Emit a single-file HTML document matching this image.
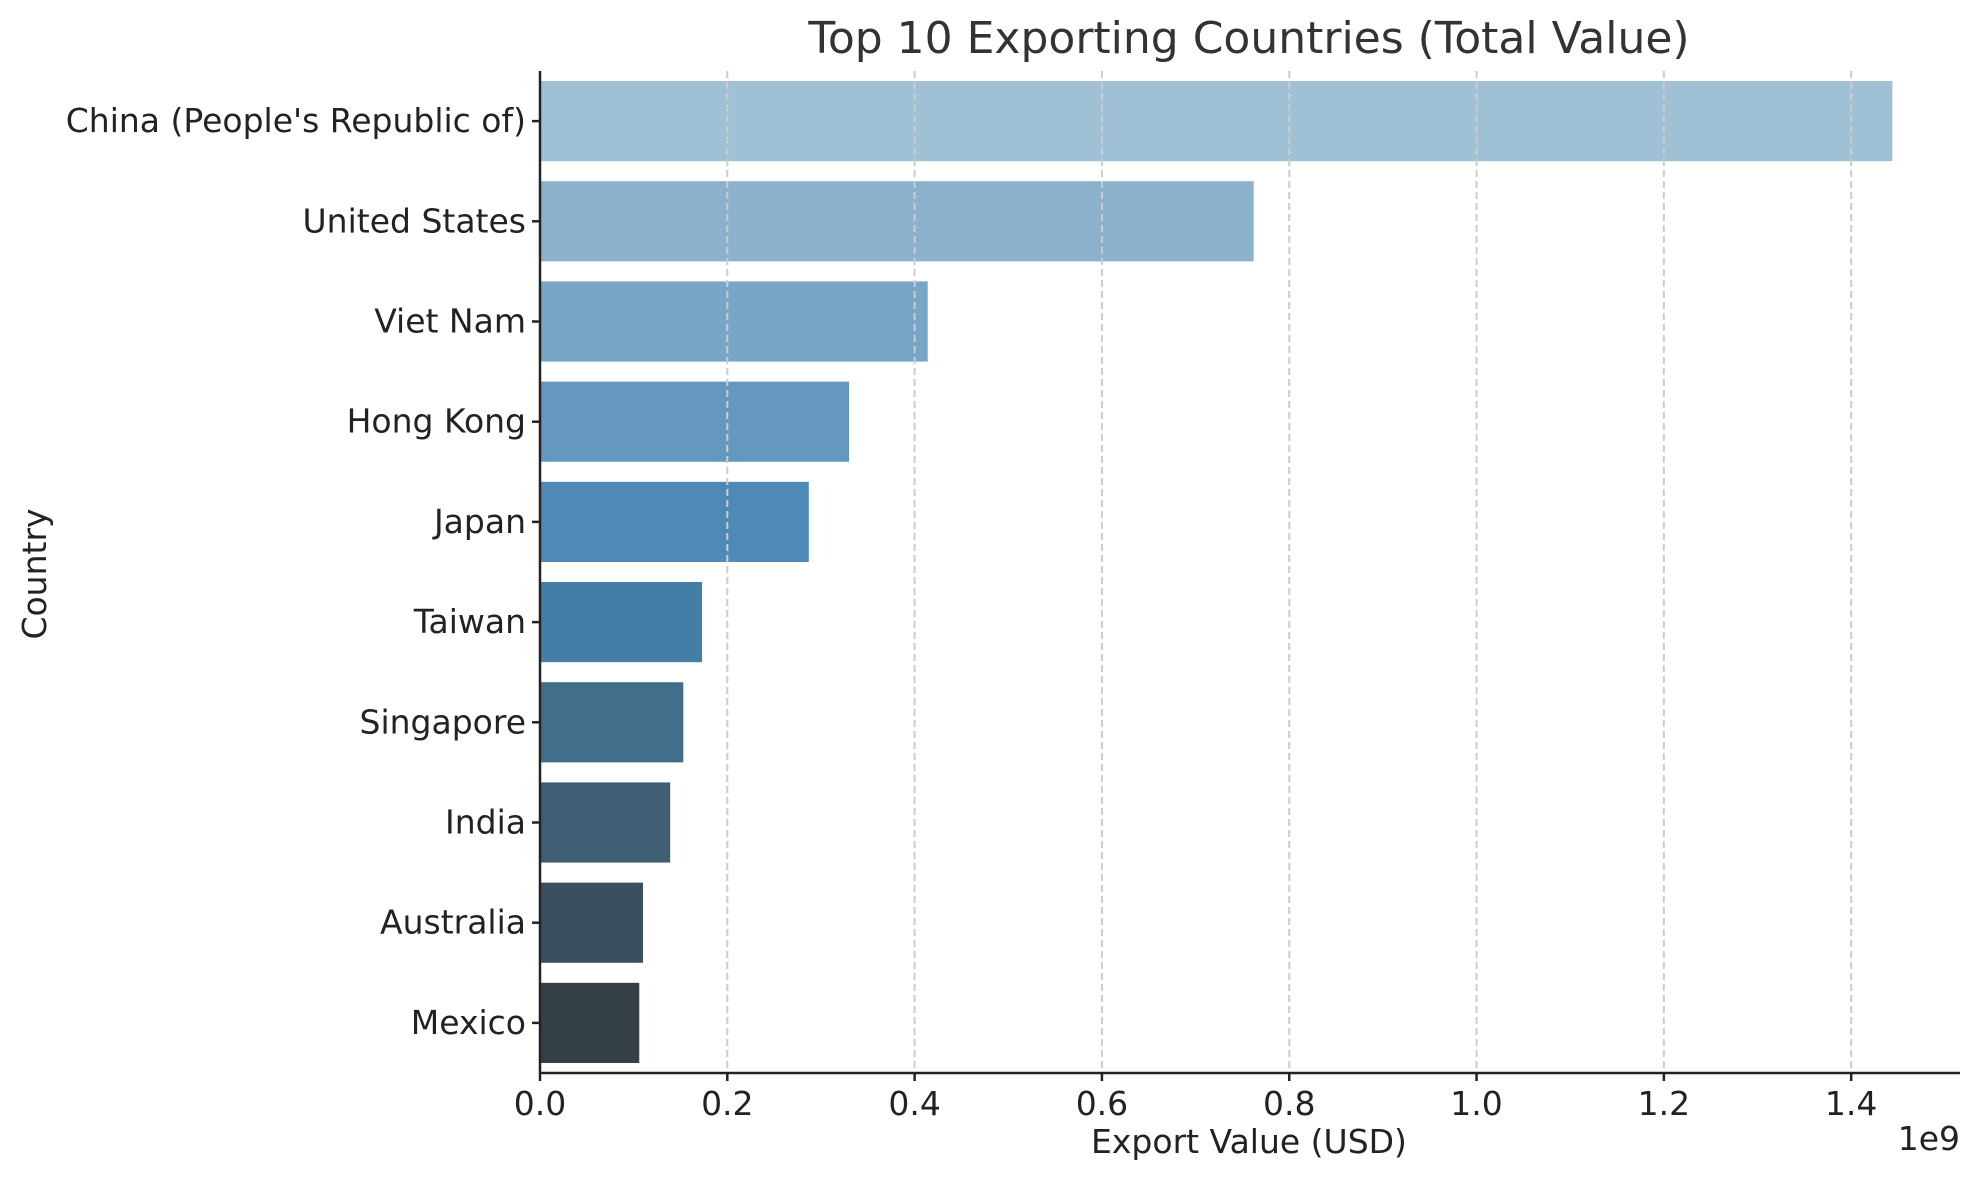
<!DOCTYPE html>
<html><head><meta charset="utf-8"><style>
body{margin:0;background:#fff;}
svg text{font-family:"DejaVu Sans","Liberation Sans",sans-serif;}
</style></head><body>
<svg id="chart" width="1979" height="1180" viewBox="0 0 1979 1180" xmlns="http://www.w3.org/2000/svg">
<rect width="1979" height="1180" fill="#fff"/>
<text x="1249" y="53" font-size="44" text-anchor="middle" fill="#333">Top 10 Exporting Countries (Total Value)</text>
<g id="bars"></g>
<g id="grid"></g>
<g id="axes"></g>
<text x="1249" y="1153" font-size="33" text-anchor="middle" fill="#222">Export Value (USD)</text>
<text x="1960" y="1150" font-size="33" text-anchor="end" fill="#222">1e9</text>
<text transform="translate(46,574) rotate(-90)" font-size="33" text-anchor="middle" fill="#222">Country</text>
</svg>
<script>
const categories = ["China (People's Republic of)","United States","Viet Nam","Hong Kong","Japan","Taiwan","Singapore","India","Australia","Mexico"];
const values = [1.444,0.762,0.414,0.330,0.287,0.173,0.153,0.139,0.110,0.106];
const tickValues = [0,0.2,0.4,0.6,0.8,1.0,1.2,1.4];
const tickLabels = ["0.0","0.2","0.4","0.6","0.8","1.0","1.2","1.4"];
const colors = ["#9fc0d5","#8bb1cc","#78a6c6","#6498c0","#4f8ab6","#447da6","#426e8b","#3f5d73","#3c4f60","#353f46"];
const NS="http://www.w3.org/2000/svg";
const plotLeft=540,plotRight=1960,plotTop=71,plotBottom=1073,xmax=1.5162;
function xs(v){return plotLeft+(v/xmax)*(plotRight-plotLeft);}
const band=(plotBottom-plotTop)/categories.length;
function ys(i){return plotTop+band*(i+0.5);}
function mk(tag,attrs,parent){const e=document.createElementNS(NS,tag);for(const k in attrs)e.setAttribute(k,attrs[k]);parent.appendChild(e);return e;}
const barsG=document.getElementById('bars'),gridG=document.getElementById('grid'),axesG=document.getElementById('axes');
categories.forEach((c,i)=>{
  const r=mk('rect',{x:xs(0),y:ys(i)-band*0.4,width:xs(values[i])-xs(0),height:band*0.8,fill:colors[i%colors.length]},barsG);
  
  
  const t=mk('line',{x1:plotLeft-8,x2:plotLeft,y1:ys(i),y2:ys(i),stroke:'#222','stroke-width':2.5},axesG);
  
  
  const l=mk('text',{x:plotLeft-14,y:ys(i)+11,'font-size':33,'text-anchor':'end',fill:'#222'},axesG);
  l.textContent=c;
  
  
});
tickValues.forEach((v,i)=>{
  if(v>0){
    const g=mk('line',{x1:xs(v),x2:xs(v),y1:plotTop,y2:plotBottom,stroke:'#ccc','stroke-width':2,'stroke-dasharray':'7,4'},gridG);
    
    
  }
  const t=mk('line',{x1:xs(v),x2:xs(v),y1:plotBottom,y2:plotBottom+8,stroke:'#222','stroke-width':2.5},axesG);
  
  
  const l=mk('text',{x:xs(v),y:plotBottom+42,'font-size':33,'text-anchor':'middle',fill:'#222'},axesG);
  l.textContent=tickLabels[i];
  
  
});
const ya=mk('line',{x1:plotLeft,x2:plotLeft,y1:plotTop,y2:plotBottom+1,stroke:'#222','stroke-width':2.5},axesG);


const xa=mk('line',{x1:plotLeft-1,x2:plotRight,y1:plotBottom,y2:plotBottom,stroke:'#222','stroke-width':2.5},axesG);


</script>
</body></html>
